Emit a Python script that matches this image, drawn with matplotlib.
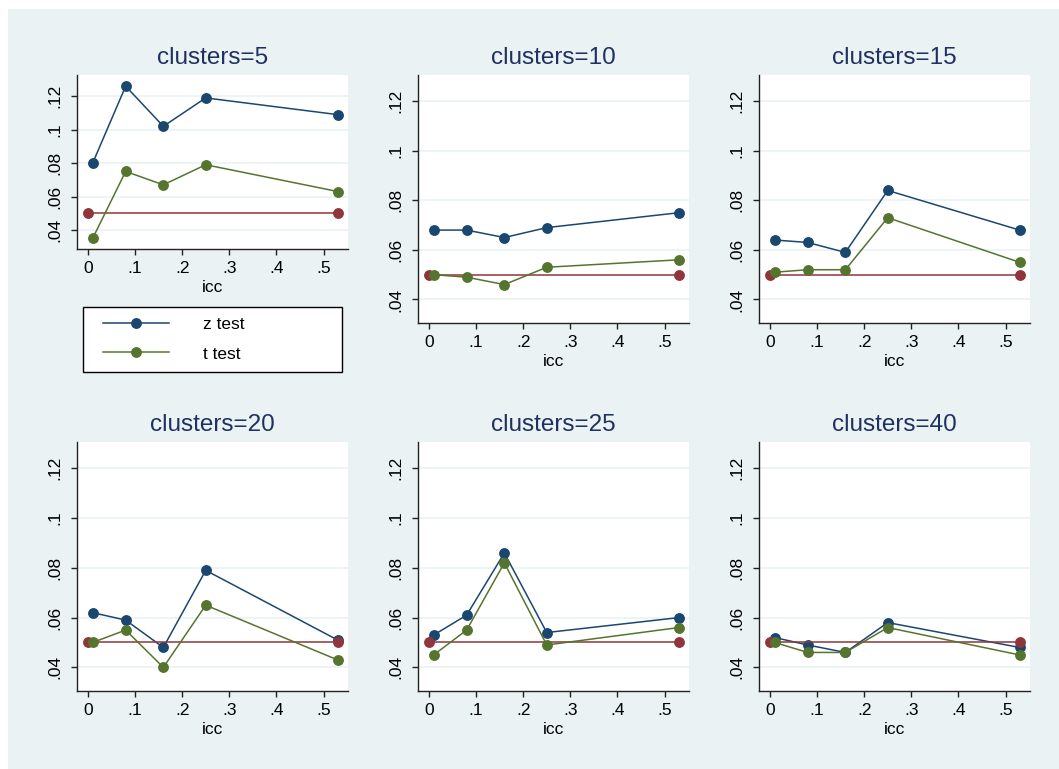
import matplotlib
matplotlib.use("Agg")
import matplotlib.pyplot as plt
from matplotlib.patches import Rectangle
from matplotlib.lines import Line2D
from matplotlib.legend_handler import HandlerLine2D

plt.rcParams['font.family'] = ['Liberation Sans', 'DejaVu Sans']

# data
icc = [0.01, 0.08, 0.16, 0.25, 0.53]
ref_x = [0.0, 0.53]
ref_y = [0.05, 0.05]
clusters = [5, 10, 15, 20, 25, 40]
z_test = {
    5: [0.080, 0.126, 0.102, 0.119, 0.109],
    10: [0.068, 0.068, 0.065, 0.069, 0.075],
    15: [0.064, 0.063, 0.059, 0.084, 0.068],
    20: [0.062, 0.059, 0.048, 0.079, 0.051],
    25: [0.053, 0.061, 0.086, 0.054, 0.060],
    40: [0.052, 0.049, 0.046, 0.058, 0.048],
}
t_test = {
    5: [0.035, 0.075, 0.067, 0.079, 0.063],
    10: [0.050, 0.049, 0.046, 0.053, 0.056],
    15: [0.051, 0.052, 0.052, 0.073, 0.055],
    20: [0.050, 0.055, 0.040, 0.065, 0.043],
    25: [0.045, 0.055, 0.082, 0.049, 0.056],
    40: [0.050, 0.046, 0.046, 0.056, 0.045],
}
yticks = [0.04, 0.06, 0.08, 0.10, 0.12]
ytick_labels = ['.04', '.06', '.08', '.1', '.12']
xticks = [0, 0.1, 0.2, 0.3, 0.4, 0.5]
xtick_labels = ['0', '.1', '.2', '.3', '.4', '.5']

navy = '#1a476f'
green = '#55752f'
maroon = '#90353b'
bg = '#eaf2f3'
title_col = '#1e3160'

W, H = 1059, 769
fig = plt.figure(figsize=(W / 100, H / 100), dpi=100)
fig.patches.append(Rectangle((8 / W, 0), 1, 1 - 9 / H, transform=fig.transFigure,
                             facecolor=bg, edgecolor='none', zorder=-10))


def rect(l, t, r, b):
    return [l / W, 1 - b / H, (r - l) / W, (b - t) / H]


boxes = [(77, 75, 348, 249), (418, 75, 689, 323), (759, 75, 1030, 323),
         (77, 442, 348, 691), (418, 442, 689, 691), (759, 442, 1030, 691)]

ms = 6.8
for i, c in enumerate(clusters):
    ax = fig.add_axes(rect(*boxes[i]))
    ax.set_facecolor('white')
    ax.plot(icc, z_test[c], color=navy, lw=1.1, marker='o', ms=ms, zorder=3)
    ax.plot(ref_x, ref_y, color=maroon, lw=1.1, marker='o', ms=ms, zorder=4)
    ax.plot(icc, t_test[c], color=green, lw=1.1, marker='o', ms=ms, zorder=5)
    ax.set_xlim(-0.0233, 0.552)
    if i == 0:
        ax.set_ylim(0.0286, 0.1327)
    else:
        ax.set_ylim(0.0305, 0.1306)
    ax.set_yticks(yticks)
    ax.set_yticklabels(ytick_labels)
    ax.set_xticks(xticks)
    ax.set_xticklabels(xtick_labels)
    ax.grid(axis='y', color=bg, lw=1.2, zorder=0)
    ax.set_axisbelow(True)
    for s in ['top', 'right']:
        ax.spines[s].set_visible(False)
    for s in ['left', 'bottom']:
        ax.spines[s].set_color('#222222')
        ax.spines[s].set_linewidth(1.0)
    ax.tick_params(axis='both', length=4.3, width=1, color='#222222', labelsize=12.5)
    ax.tick_params(axis='x', pad=4.5)
    ax.tick_params(axis='y', pad=6, labelrotation=90)
    for lab in ax.get_yticklabels():
        lab.set_va('center')
    ax.set_xlabel('icc', fontsize=12.5, labelpad=3)
    ax.set_title('clusters=%d' % c, fontsize=17.5, color=title_col, pad=8)

handles = [Line2D([], [], color=navy, lw=1.1, marker='o', ms=ms),
           Line2D([], [], color=green, lw=1.1, marker='o', ms=ms)]
leg = fig.legend(handles, ['z test', 't test'], loc='upper left',
                 bbox_to_anchor=(83 / W, 1 - 307 / H, 259 / W, 0.0001),
                 mode='expand', fontsize=12.5, frameon=True, fancybox=False,
                 edgecolor='black', framealpha=1, handlelength=4.35,
                 handletextpad=1.96, labelspacing=0.8, borderpad=0.6,
                 borderaxespad=0, numpoints=1,
                 handler_map={Line2D: HandlerLine2D(xpad=0.55)})
leg.get_frame().set_linewidth(1.0)

fig.savefig('out.png', dpi=100)
